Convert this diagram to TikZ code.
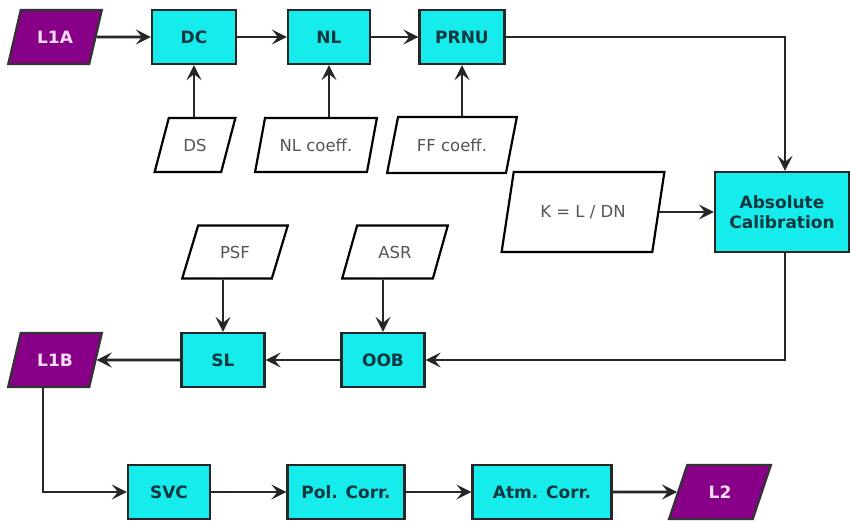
\documentclass[tikz,border=0pt]{standalone}
\usepackage{fontspec}
\setmainfont{DejaVu Sans}
\usetikzlibrary{shapes.geometric,arrows.meta}
\definecolor{boxcyan}{RGB}{22,236,236}
\definecolor{datapurple}{RGB}{136,0,136}
\definecolor{boxtext}{RGB}{18,55,62}
\definecolor{paratext}{RGB}{85,85,85}
\definecolor{lightlabel}{RGB}{245,220,245}
\tikzset{
  procbox/.style={rectangle, draw=black!85, line width=2.2pt, fill=boxcyan,
    text=boxtext, font=\bfseries\fontsize{17}{20}\selectfont, align=center,
    minimum height=54pt, inner sep=2pt},
  para/.style={trapezium, trapezium left angle=66, trapezium right angle=114,
    trapezium stretches=true, draw=black, line width=2.2pt, fill=white,
    text=paratext, font=\fontsize{16.5}{20}\selectfont, minimum height=54pt, inner sep=2pt},
  datapara/.style={para, fill=datapurple, draw=black!80, text=lightlabel, font=\bfseries\fontsize{17}{20}\selectfont},
  flow/.style={line width=2.6pt, draw=black!85, -{Stealth[length=15pt,width=15pt,inset=6pt]}}
}
\begin{document}
\begin{tikzpicture}[x=1pt,y=-1pt]
\useasboundingbox (0,0) rectangle (850,521);
% top row
\node[datapara, minimum width=94pt] (l1a) at (55,37) {L1A};
\node[procbox, minimum width=84pt] (dc) at (194,37) {DC};
\node[procbox, minimum width=82pt] (nl) at (329,37) {NL};
\node[procbox, minimum width=85pt] (prnu) at (462,37) {PRNU};
% inputs
\node[para, minimum width=81pt] (ds) at (195,145) {DS};
\node[para, minimum width=122pt] (nlc) at (316,145) {NL coeff.};
\node[para, minimum width=130pt, minimum height=56pt] (ffc) at (452,145) {FF coeff.};
\node[para, minimum width=163pt, minimum height=80pt] (k) at (583,212) {K = L / DN};
\node[procbox, minimum width=134pt, minimum height=80pt] (abs) at (782,212) {Absolute\\Calibration};
% middle row
\node[para, minimum width=106pt, minimum height=53pt] (psf) at (235,252) {PSF};
\node[para, minimum width=106pt, minimum height=53pt] (asr) at (395,252) {ASR};
\node[datapara, minimum width=94pt] (l1b) at (55,360) {L1B};
\node[procbox, minimum width=83pt] (sl) at (223,360) {SL};
\node[procbox, minimum width=83pt] (oob) at (383,360) {OOB};
% bottom row
\node[procbox, minimum width=82pt] (svc) at (169,492) {SVC};
\node[procbox, minimum width=117pt] (pol) at (346,492) {Pol. Corr.};
\node[procbox, minimum width=139pt] (atm) at (542,492) {Atm. Corr.};
\node[datapara, minimum width=102pt] (l2) at (720,492) {L2};
% connectors
\draw[flow] (l1a) -- (dc);
\draw[flow] (dc) -- (nl);
\draw[flow] (nl) -- (prnu);
\draw[flow] (ds.north -| dc.south) -- (dc.south);
\draw[flow] (nlc.north -| nl.south) -- (nl.south);
\draw[flow] (ffc.north -| prnu.south) -- (prnu.south);
\draw[flow] (prnu.east) -| ([xshift=3pt]abs.north);
\draw[flow] (k.east) -- (k.east -| abs.west);
\draw[flow] ([xshift=3pt]abs.south) |- (oob.east);
\draw[flow] (oob) -- (sl);
\draw[flow] (sl) -- (l1b);
\draw[flow] (psf.south -| sl.north) -- (sl.north);
\draw[flow] (asr.south -| oob.north) -- (oob.north);
\draw[flow] ([xshift=-12pt]l1b.south) |- (svc.west);
\draw[flow] (svc) -- (pol);
\draw[flow] (pol) -- (atm);
\draw[flow] (atm) -- (l2);
\end{tikzpicture}
\end{document}
